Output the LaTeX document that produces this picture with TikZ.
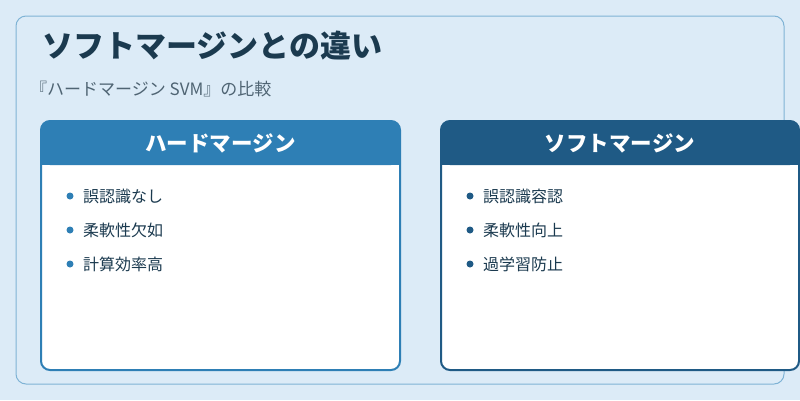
\documentclass[tikz,border=0pt]{standalone}
\usepackage{fontspec}
\setmainfont{Noto Sans CJK JP}
\usetikzlibrary{positioning}
\definecolor{bgblue}{HTML}{DCEBF7}
\definecolor{frameblue}{HTML}{7FB3D5}
\definecolor{hardblue}{HTML}{2E7FB5}
\definecolor{softblue}{HTML}{1F5A85}
\definecolor{titlecol}{HTML}{1B3A4F}
\definecolor{subcol}{HTML}{4F6473}
\tikzset{
  card/.style={draw=#1,line width=2pt,fill=white,rounded corners=9pt},
  cardhead/.style={fill=#1,rounded corners=9pt},
  headtext/.style={text=white,font=\fontsize{21.5}{24}\selectfont\bfseries},
  item/.style={anchor=west,font=\fontsize{16}{18}\selectfont,text=titlecol},
  dot/.style={circle,fill=#1,inner sep=0pt,minimum size=7pt}
}
\begin{document}
\begin{tikzpicture}[x=1pt,y=-1pt]
\useasboundingbox (0,0) rectangle (800,400);
\fill[bgblue] (0,0) rectangle (800,400);
\draw[frameblue,line width=1pt,rounded corners=10pt] (16,16) rectangle (784,384);
\node[anchor=west,text=titlecol,font=\fontsize{31}{34}\selectfont\bfseries,inner sep=0pt] (title) at (42,46) {ソフトマージンとの違い};
\node[anchor=west,text=subcol,font=\fontsize{17}{20}\selectfont,inner sep=0pt] (sub) at (30,89) {『ハードマージン SVM』の比較};
% left card
\draw[card=hardblue] (41,121) rectangle (400,370);
\fill[cardhead=hardblue] (41,121) rectangle (400,165);
\fill[hardblue] (41,150) rectangle (400,165);
\node[headtext] (hardhead) at (220.5,143) {ハードマージン};
\foreach \t [count=\i] in {誤認識なし,柔軟性欠如,計算効率高}{
  \node[dot=hardblue] (hd\i) at (70,162+34*\i) {};
  \node[item,right=6pt of hd\i] (ht\i) {\t};
}
% right card
\draw[card=softblue] (441,121) rectangle (799,370);
\fill[cardhead=softblue] (441,121) rectangle (799,165);
\fill[softblue] (441,150) rectangle (799,165);
\node[headtext] (softhead) at (620,143) {ソフトマージン};
\foreach \t [count=\i] in {誤認識容認,柔軟性向上,過学習防止}{
  \node[dot=softblue] (sd\i) at (470,162+34*\i) {};
  \node[item,right=6pt of sd\i] (st\i) {\t};
}
\end{tikzpicture}
\end{document}
